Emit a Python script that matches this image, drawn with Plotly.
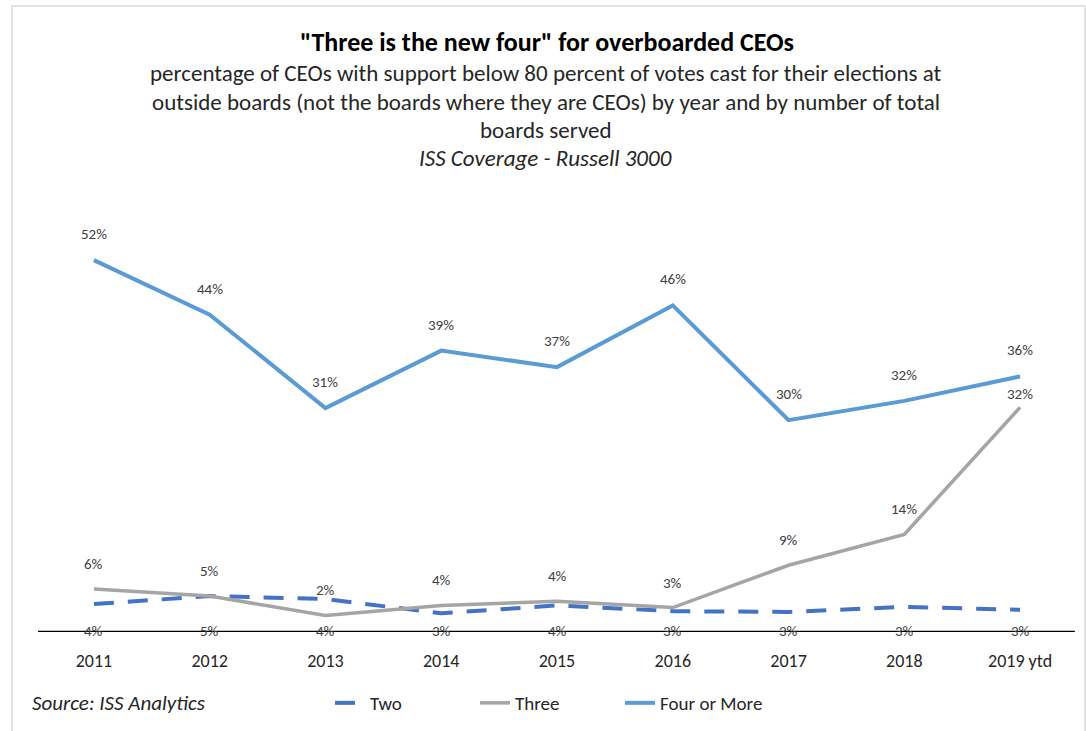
import plotly.graph_objects as go

years = ["2011", "2012", "2013", "2014", "2015", "2016", "2017", "2018", "2019 ytd"]
two = [4, 5, 4, 3, 4, 3, 3, 3, 3]
three = [6, 5, 2, 4, 4, 3, 9, 14, 32]
four = [52, 44, 31, 39, 37, 46, 30, 32, 36]
# drawn positions (chart draws Two/Three slightly off from the rounded labels)
two_pos = [3.9, 5.0, 4.6, 2.6, 3.7, 2.9, 2.8, 3.5, 3.1]
three_pos = [6.0, 5.0, 2.3, 3.7, 4.3, 3.4, 9.3, 13.6, 31.3]
four_pos = [51.8, 44.2, 31.2, 39.2, 36.9, 45.5, 29.5, 32.2, 35.6]

FONT = "Carlito, 'Liberation Sans Narrow', Lato, sans-serif"
TXT = "#404040"

fig = go.Figure()
fig.add_trace(go.Scatter(x=years, y=two_pos, name="Two", mode="lines",
                         line=dict(color="#4472C4", width=4, dash="20px,14px")))
fig.add_trace(go.Scatter(x=years, y=three_pos, name="Three", mode="lines",
                         line=dict(color="#A5A5A5", width=3.5)))
fig.add_trace(go.Scatter(x=years, y=four_pos, name="Four or More", mode="lines",
                         line=dict(color="#5B9BD5", width=4)))

LBL = dict(size=15, color=TXT, family=FONT)
ann = []
for i, (v, p) in enumerate(zip(four, four_pos)):
    ann.append(dict(x=i, y=p, text=f"{v}%", showarrow=False, yshift=26, font=LBL))
for i, (v, p) in enumerate(zip(three, three_pos)):
    ann.append(dict(x=i, y=p, text=f"{v}%", showarrow=False,
                    yshift=13 if i == len(three) - 1 else 25, font=LBL))
for i, (v, p) in enumerate(zip(two, two_pos)):
    ann.append(dict(x=i, y=0, text=f"{v}%", showarrow=False, yshift=1, font=LBL))

def py(px):
    return (632 - px) / 402.0

SUB = dict(size=23, color="#262626", family=FONT)
ann += [
    dict(xref="paper", yref="paper", x=0.49, y=py(42), yanchor="middle",
         text="<b>\"Three is the new four\" for overboarded CEOs</b>",
         showarrow=False, font=dict(size=26, color="#000000", family=FONT)),
    dict(xref="paper", yref="paper", x=0.489, y=py(73), yanchor="middle",
         text="percentage of CEOs with support below 80 percent of votes cast for their elections at",
         showarrow=False, font=SUB),
    dict(xref="paper", yref="paper", x=0.489, y=py(102), yanchor="middle",
         text="outside boards (not the boards where they are CEOs) by year and by number of total",
         showarrow=False, font=SUB),
    dict(xref="paper", yref="paper", x=0.489, y=py(130), yanchor="middle", text="boards served",
         showarrow=False, font=SUB),
    dict(xref="paper", yref="paper", x=0.489, y=py(158), yanchor="middle",
         text="<i>ISS Coverage - Russell 3000</i>", showarrow=False, font=SUB),
    dict(xref="paper", yref="paper", x=-0.006, xanchor="left", y=py(703), yanchor="middle",
         text="<i>Source: ISS Analytics</i>",
         showarrow=False, font=dict(size=21, color="#262626", family=FONT)),
]

fig.update_layout(
    width=1086, height=731,
    paper_bgcolor="white", plot_bgcolor="white",
    margin=dict(l=36, r=8, t=230, b=99),
    font=dict(family=FONT, color=TXT),
    showlegend=True,
    legend=dict(orientation="h", x=(330 - 36) / 1042, xanchor="left", y=py(703), yanchor="middle",
                font=dict(size=19, color="#262626", family=FONT),
                entrywidth=100, entrywidthmode="pixels"),
    annotations=ann,
    xaxis=dict(type="category", range=[-0.5, 8.5], showgrid=False, zeroline=False,
               showline=False, ticks="", ticklabelstandoff=16,
               tickfont=dict(size=18, color="#262626", family=FONT)),
    yaxis=dict(range=[0, 56], showgrid=False, zeroline=False, showline=False,
               showticklabels=False),
    shapes=[
        dict(type="line", xref="paper", yref="y", x0=0.002, x1=0.997, y0=0, y1=0,
             line=dict(color="black", width=2.5)),
        dict(type="rect", xref="paper", yref="paper", x0=(12-36)/1042, x1=(1085-36)/1042,
             y0=py(735), y1=py(6), line=dict(color="#D9D9D9", width=1.5)),
    ],
)

fig.write_html("out.html")
